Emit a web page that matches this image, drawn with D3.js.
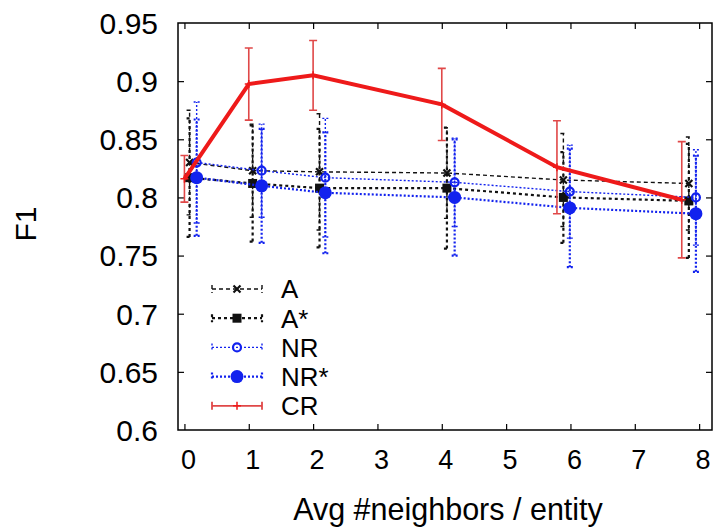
<!DOCTYPE html>
<html>
<head>
<meta charset="utf-8">
<script src="https://cdn.jsdelivr.net/npm/d3@7"></script>
<style>
  body { margin: 0; background: #fff; }
  svg { display: block; font-family: "Liberation Sans", Arial, Helvetica, sans-serif; }
</style>
</head>
<body>
<svg id="svg"></svg>
<script>
// tick labels
const xTicks = [0, 1, 2, 3, 4, 5, 6, 7, 8];
const yTicks = [0.6, 0.65, 0.7, 0.75, 0.8, 0.85, 0.9, 0.95];

// x positions (avg #neighbors) per method
const xA  = [0.08, 1.06, 2.10, 4.08, 5.89, 7.84];
const xNR = [0.19, 1.20, 2.19, 4.20, 5.99, 7.95];
const xCR = [0.00, 1.00, 2.00, 4.00, 5.79, 7.73];

// F1 means and std error bars
const fA    = [0.830, 0.823, 0.822, 0.821, 0.815, 0.812];
const errA  = [0.045, 0.040, 0.050, 0.039, 0.040, 0.040];
const fAs   = [0.817, 0.812, 0.808, 0.808, 0.800, 0.797];
const errAs = [0.051, 0.050, 0.051, 0.052, 0.039, 0.049];
const fNR   = [0.830, 0.823, 0.817, 0.813, 0.805, 0.800];
const errNR = [0.052, 0.040, 0.051, 0.038, 0.040, 0.041];
const fNRs  = [0.817, 0.810, 0.804, 0.800, 0.791, 0.786];
const errNRs= [0.050, 0.049, 0.052, 0.050, 0.051, 0.050];
const fCR   = [0.816, 0.8975, 0.905, 0.880, 0.826, 0.798];
const errCR = [0.020, 0.031, 0.030, 0.031, 0.040, 0.050];

const names = ["A", "A*", "NR", "NR*", "CR"];

const blue = "#1222ee";
const series = [
    { name: names[0], xs: xA,  ys: fA,   es: errA,   color: "#111", width: 1.4, dash: "4,3", mark: "x" },
    { name: names[1], xs: xA,  ys: fAs,  es: errAs,  color: "#111", width: 2.2, dash: "3,3", mark: "square" },
    { name: names[2], xs: xNR, ys: fNR,  es: errNR,  color: blue,   width: 1.4, dash: "2,2", mark: "circle" },
    { name: names[3], xs: xNR, ys: fNRs, es: errNRs, color: blue,   width: 2.2, dash: "2,2", mark: "dot" },
    { name: names[4], xs: xCR, ys: fCR,  es: errCR,  color: "#ee1a1a", width: 4, dash: null, mark: "plus" }
];

const W = 715, H = 527;
const plotL = 178, plotR = 712, plotT = 23, plotB = 430;

const svg = d3.select("svg")
    .attr("width", W)
    .attr("height", H);

const x = d3.scaleLinear().domain([-0.1, 8.2]).range([plotL, plotR]);
const y = d3.scaleLinear().domain([0.6, 0.95]).range([plotB, plotT]);

// ticks (mirrored, inward) drawn with axes
const tickLen = 6;
svg.append("g")
    .attr("transform", `translate(0,${plotB})`)
    .call(d3.axisTop(x).tickValues(xTicks).tickSize(tickLen).tickFormat(""));
svg.append("g")
    .attr("transform", `translate(0,${plotT})`)
    .call(d3.axisBottom(x).tickValues(xTicks).tickSize(tickLen).tickFormat(""));
svg.append("g")
    .attr("transform", `translate(${plotL},0)`)
    .call(d3.axisRight(y).tickValues(yTicks.slice(1, -1)).tickSize(tickLen).tickFormat(""));
svg.append("g")
    .attr("transform", `translate(${plotR},0)`)
    .call(d3.axisLeft(y).tickValues(yTicks.slice(1, -1)).tickSize(tickLen).tickFormat(""));
svg.selectAll(".domain").remove();
svg.selectAll(".tick line").attr("stroke", "#000").attr("stroke-width", 1.2);

// tick labels
svg.append("g")
    .selectAll("text")
    .data(yTicks)
    .join("text")
        .attr("x", 158)
        .attr("y", d => y(d))
        .attr("dy", "0.36em")
        .attr("text-anchor", "end")
        .attr("font-size", 30)
        .attr("fill", "#000")
        .text(d => d);

svg.append("g")
    .selectAll("text")
    .data(xTicks)
    .join("text")
        .attr("x", d => x(d) + 4)
        .attr("y", 469)
        .attr("text-anchor", "middle")
        .attr("font-size", 27)
        .attr("fill", "#000")
        .text(d => d);

svg.append("text")
    .attr("x", 448)
    .attr("y", 520)
    .attr("text-anchor", "middle")
    .attr("font-size", 30.5)
    .attr("fill", "#000")
    .text("Avg #neighbors / entity");

svg.append("text")
    .attr("transform", "translate(25,224) rotate(-90)")
    .attr("dy", "0.36em")
    .attr("text-anchor", "middle")
    .attr("font-size", 30)
    .attr("fill", "#000")
    .text("F1");

const drawMark = (g, s, px, py) => {
    if (s.mark === "x") {
        g.append("path")
            .attr("d", `M${px - 3.5},${py - 3.5}L${px + 3.5},${py + 3.5}M${px - 3.5},${py + 3.5}L${px + 3.5},${py - 3.5}`)
            .attr("stroke", s.color).attr("stroke-width", 2.2).attr("fill", "none");
    } else if (s.mark === "square") {
        g.append("rect")
            .attr("x", px - 4.5).attr("y", py - 4.5)
            .attr("width", 9).attr("height", 9)
            .attr("fill", s.color);
    } else if (s.mark === "circle") {
        g.append("circle")
            .attr("cx", px).attr("cy", py).attr("r", 4)
            .attr("fill", "none").attr("stroke", s.color).attr("stroke-width", 2.2);
    } else if (s.mark === "dot") {
        g.append("circle")
            .attr("cx", px).attr("cy", py).attr("r", 6.5)
            .attr("fill", s.color);
    } else {
        g.append("path")
            .attr("d", `M${px - 4},${py}L${px + 4},${py}M${px},${py - 4}L${px},${py + 4}`)
            .attr("stroke", s.color).attr("stroke-width", 1.5);
    }
};

const line = d3.line().x(d => x(d[0])).y(d => y(d[1]));

series.forEach(s => {
    const g = svg.append("g").attr("class", "series");
    const pts = s.xs.map((v, i) => [v, s.ys[i], s.es[i]]);
    const isCR = s.mark === "plus";
    const barColor = isCR ? "#e04848" : s.color;
    const barW = isCR ? 1.6 : s.width;
    const cap = isCR ? 4 : 3;

    // error bars
    g.selectAll(".bar")
        .data(pts)
        .join("path")
            .attr("class", "bar")
            .attr("d", d => {
                const px = x(d[0]), y0 = y(d[1] - d[2]), y1 = y(d[1] + d[2]);
                return `M${px},${y0}L${px},${y1}M${px - cap},${y0}L${px + cap},${y0}M${px - cap},${y1}L${px + cap},${y1}`;
            })
            .attr("fill", "none")
            .attr("stroke", barColor)
            .attr("stroke-width", barW)
            .attr("stroke-dasharray", s.dash);

    g.append("path")
        .datum(pts)
        .attr("d", line)
        .attr("fill", "none")
        .attr("stroke", s.color)
        .attr("stroke-width", s.width)
        .attr("stroke-dasharray", s.dash);

    pts.forEach(d => drawMark(g, s, x(d[0]), y(d[1])));
});

// legend (rows tight like the original, font kept just under the row pitch)
const legendY = [289, 318.2, 347.4, 376.6, 405.8];
series.forEach((s, i) => {
    const g = svg.append("g").attr("class", "legend");
    const ly = legendY[i];
    const isCR = s.mark === "plus";
    g.append("path")
        .attr("d", `M212,${ly}L262,${ly}M212,${ly - 4}L212,${ly + 4}M262,${ly - 4}L262,${ly + 4}`)
        .attr("fill", "none")
        .attr("stroke", isCR ? "#e04848" : s.color)
        .attr("stroke-width", isCR ? 1.8 : s.width)
        .attr("stroke-dasharray", s.dash);
    drawMark(g, s, 237, ly);
    g.append("text")
        .attr("x", 281)
        .attr("y", ly)
        .attr("dy", "0.36em")
        .attr("font-size", 25.9)
        .attr("fill", "#000")
        .text(s.name);
});

// frame
svg.append("rect")
    .attr("x", plotL).attr("y", plotT)
    .attr("width", plotR - plotL).attr("height", plotB - plotT)
    .attr("fill", "none")
    .attr("stroke", "#000")
    .attr("stroke-width", 1.5);
</script>
</body>
</html>
